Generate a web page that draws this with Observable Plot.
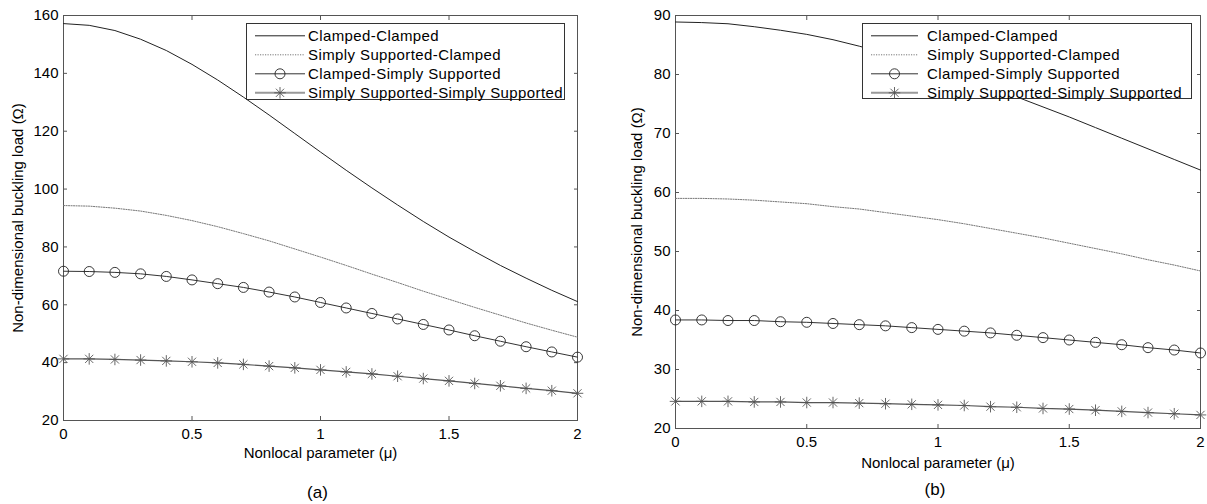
<!DOCTYPE html>
<html>
<head>
<meta charset="utf-8">
<script src="https://cdn.jsdelivr.net/npm/d3@7"></script>
<script src="https://cdn.jsdelivr.net/npm/@observablehq/plot@0.6"></script>
<style>
  body { margin: 0; background: #fff; }
  #wrap { position: relative; width: 1207px; height: 504px; font-family: "Liberation Sans", Arial, sans-serif; }
  .panel { position: absolute; top: 0; }
  .legend { position: absolute; box-sizing: border-box; border: 1px solid #333; background: #fff; }
  .legend .row { position: absolute; left: 0; right: 0; height: 19.3px; }
  .legend .row svg { position: absolute; top: 0; }
  .legend .row span { position: absolute; top: 0; line-height: 19.3px; font-size: 15px; letter-spacing: 0.4px; color: #000; white-space: nowrap; }
</style>
</head>
<body>
<div id="wrap"></div>
<script>
// Nonlocal parameter values shared by every series
const mu = [0, 0.1, 0.2, 0.3, 0.4, 0.5, 0.6, 0.7, 0.8, 0.9, 1.0, 1.1, 1.2, 1.3, 1.4, 1.5, 1.6, 1.7, 1.8, 1.9, 2.0];

// Panel (a): non-dimensional buckling load per boundary condition
const ccA = [157.2, 156.6, 154.8, 151.8, 147.9, 143.1, 137.7, 131.8, 125.6, 119.2, 112.8, 106.5, 100.4, 94.5, 88.8, 83.4, 78.4, 73.6, 69.2, 65.0, 61.1];
const scA = [94.3, 94.1, 93.4, 92.4, 90.9, 89.1, 87.0, 84.6, 82.1, 79.3, 76.5, 73.6, 70.6, 67.7, 64.7, 61.9, 59.1, 56.4, 53.7, 51.2, 48.8];
const csA = [71.6, 71.5, 71.2, 70.7, 69.8, 68.6, 67.3, 66.0, 64.4, 62.7, 60.8, 58.9, 57.0, 55.1, 53.2, 51.3, 49.3, 47.4, 45.5, 43.7, 41.9];
const ssA = [41.3, 41.3, 41.1, 40.9, 40.6, 40.3, 39.9, 39.4, 38.8, 38.2, 37.5, 36.8, 36.1, 35.3, 34.5, 33.7, 32.8, 32.0, 31.1, 30.3, 29.4];

// Panel (b)
const ccB = [88.9, 88.8, 88.6, 88.1, 87.5, 86.8, 85.9, 84.8, 83.6, 82.3, 80.9, 79.5, 77.9, 76.2, 74.5, 72.8, 71.0, 69.2, 67.4, 65.6, 63.8];
const scB = [59.0, 59.0, 58.9, 58.7, 58.4, 58.1, 57.6, 57.2, 56.6, 56.0, 55.4, 54.7, 53.9, 53.1, 52.3, 51.4, 50.5, 49.6, 48.6, 47.7, 46.7];
const csB = [38.4, 38.4, 38.3, 38.3, 38.1, 38.0, 37.8, 37.6, 37.4, 37.1, 36.8, 36.5, 36.2, 35.8, 35.4, 35.0, 34.6, 34.2, 33.7, 33.3, 32.8];
const ssB = [24.6, 24.6, 24.6, 24.5, 24.5, 24.4, 24.4, 24.3, 24.2, 24.1, 24.0, 23.9, 23.7, 23.6, 23.4, 23.3, 23.1, 22.9, 22.7, 22.5, 22.3];

// Ticks and labels
const xTicks = [0, 0.5, 1, 1.5, 2];
const yTicksA = [20, 40, 60, 80, 100, 120, 140, 160];
const yTicksB = [20, 30, 40, 50, 60, 70, 80, 90];
const seriesNames = ["Clamped-Clamped", "Simply Supported-Clamped", "Clamped-Simply Supported", "Simply Supported-Simply Supported"];
const xLabel = "Nonlocal parameter (\u03bc)";
const yLabel = "Non-dimensional buckling load (\u03a9)";
const panelTags = ["(a)", "(b)"];

const FONT = '"Liberation Sans", Arial, sans-serif';
const FRAME = "#555";
const STAR_R = 3.8;

// Line styles per boundary condition
const styles = [
  {stroke: "#222", strokeWidth: 1, dash: null, marker: null},
  {stroke: "#777", strokeWidth: 1, dash: "1.2,1.3", marker: null},
  {stroke: "#333", strokeWidth: 1, dash: null, marker: "circle"},
  {stroke: "#555", strokeWidth: 1.2, dash: null, marker: "asterisk"}
];

const toRows = (vals) => vals.map((v, i) => ({mu: mu[i], v}));

function seriesMarks(vals, st) {
  const rows = toRows(vals);
  const marks = [Plot.line(rows, {x: "mu", y: "v", stroke: st.stroke, strokeWidth: st.strokeWidth, strokeDasharray: st.dash})];
  if (st.marker === "circle") {
    marks.push(Plot.dot(rows, {x: "mu", y: "v", r: 5, stroke: "#222", strokeWidth: 0.9, fill: "none"}));
  } else if (st.marker === "asterisk") {
    marks.push(Plot.dot(rows, {x: "mu", y: "v", symbol: "plus", r: STAR_R, stroke: "#555", strokeWidth: 0.9}));
    marks.push(Plot.dot(rows, {x: "mu", y: "v", symbol: "times", r: STAR_R, stroke: "#555", strokeWidth: 0.9}));
  }
  return marks;
}

function panel({series, yDomain, yTicks, width, margins, tag, ylabelDx, tagDy, xlabelDy}) {
  const label = {textAnchor: "middle", lineAnchor: "middle", fill: "#000"};
  return Plot.plot({
    width, height: 504,
    marginLeft: margins[0], marginRight: margins[1], marginTop: margins[2], marginBottom: margins[3],
    style: {fontFamily: FONT, fontSize: "15px", color: "#000", background: "transparent", overflow: "visible"},
    x: {domain: [0, 2]},
    y: {domain: yDomain},
    marks: [
      Plot.frame({stroke: FRAME}),
      Plot.axisX({anchor: "bottom", ticks: xTicks, tickSize: -4, tickPadding: 12, stroke: FRAME, fill: "#000", fontSize: 15, label: null, tickFormat: (d) => String(d)}),
      Plot.axisX({anchor: "top", ticks: xTicks, tickSize: -4, stroke: FRAME, label: null, tickFormat: () => ""}),
      Plot.axisY({anchor: "left", ticks: yTicks, tickSize: -4, tickPadding: 9, stroke: FRAME, fill: "#000", fontSize: 15, label: null, tickFormat: (d) => String(d)}),
      Plot.axisY({anchor: "right", ticks: yTicks, tickSize: -4, stroke: FRAME, label: null, tickFormat: () => ""}),
      ...series.flatMap((vals, i) => seriesMarks(vals, styles[i])),
      Plot.text([xLabel], {...label, text: (d) => d, frameAnchor: "bottom", dy: xlabelDy, fontSize: 15}),
      Plot.text([yLabel], {...label, text: (d) => d, frameAnchor: "left", rotate: -90, dx: ylabelDx, fontSize: 15}),
      Plot.text([tag], {...label, text: (d) => d, frameAnchor: "bottom", dy: tagDy, dx: -3, fontSize: 17})
    ]
  });
}

function legend(container, {left, top, width, height, sampleLeft, sampleWidth, textLeft}) {
  const box = d3.select(container).append("div").attr("class", "legend")
    .style("left", left + "px").style("top", top + "px")
    .style("width", width + "px").style("height", height + "px");
  seriesNames.forEach((name, i) => {
    const st = styles[i];
    const row = box.append("div").attr("class", "row").style("top", (1.5 + i * 19.3) + "px");
    const svg = row.append("svg").attr("width", sampleWidth).attr("height", 19.3).style("left", sampleLeft + "px");
    const cy = 9.8;
    svg.append("line").attr("x1", 0).attr("x2", sampleWidth).attr("y1", cy).attr("y2", cy)
      .attr("stroke", i === 3 ? "#999" : st.stroke).attr("stroke-width", i === 3 ? 2 : st.strokeWidth)
      .attr("stroke-dasharray", st.dash);
    const g = svg.append("g").attr("transform", `translate(${sampleWidth / 2},${cy})`);
    if (st.marker === "circle") {
      g.append("circle").attr("r", 5).attr("fill", "none").attr("stroke", "#222").attr("stroke-width", 0.9);
    } else if (st.marker === "asterisk") {
      const size = Math.PI * STAR_R * STAR_R;
      g.append("path").attr("d", d3.symbol(d3.symbolPlus, size)()).attr("fill", "none").attr("stroke", "#555").attr("stroke-width", 0.9);
      g.append("path").attr("d", d3.symbol(d3.symbolTimes, size)()).attr("fill", "none").attr("stroke", "#555").attr("stroke-width", 0.9);
    }
    row.append("span").style("left", textLeft + "px").text(name);
  });
}

const wrap = document.getElementById("wrap");

const left = document.createElement("div");
left.className = "panel";
left.style.left = "0px";
left.appendChild(panel({
  series: [ccA, scA, csA, ssA], yDomain: [20, 160], yTicks: yTicksA, width: 600,
  margins: [63, 23, 15, 84], tag: panelTags[0], ylabelDx: -45, xlabelDy: 33, tagDy: 72
}));
wrap.appendChild(left);
legend(left, {left: 246, top: 23, width: 319, height: 77, sampleLeft: 8, sampleWidth: 50, textLeft: 61});

const right = document.createElement("div");
right.className = "panel";
right.style.left = "600px";
right.appendChild(panel({
  series: [ccB, scB, csB, ssB], yDomain: [20, 90], yTicks: yTicksB, width: 607,
  margins: [75, 7, 15, 76], tag: panelTags[1], ylabelDx: -38, xlabelDy: 35, tagDy: 61
}));
wrap.appendChild(right);
legend(right, {left: 262, top: 23, width: 330, height: 76, sampleLeft: 8, sampleWidth: 47, textLeft: 64});
</script>
</body>
</html>
